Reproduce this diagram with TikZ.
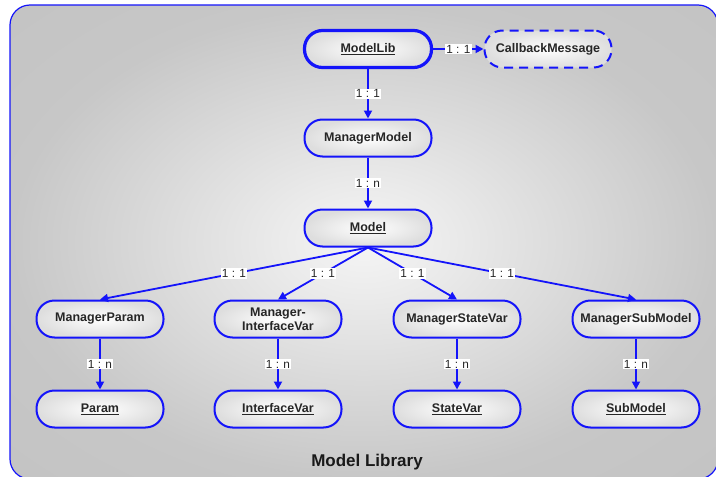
\documentclass[tikz,border=0pt]{standalone}
\usepackage{fontspec}
\setmainfont{Liberation Sans}
\usetikzlibrary{arrows.meta}
\definecolor{libblue}{RGB}{20,20,250}
% grey frame, light in the middle
\pgfdeclareradialshading{libback}{\pgfpoint{0bp}{0bp}}{color(0bp)=(white!96!black); color(6bp)=(white!92!black); color(25bp)=(white!78!black); color(50bp)=(white!75!black)}
\begin{document}
\begin{tikzpicture}[x=1pt,y=-1pt,>={Triangle[length=8pt,width=8pt]}, line join=round,
  box/.style={rectangle,rounded corners=18pt,draw=libblue,line width=2pt,minimum width=127pt,minimum height=37pt,inner color=white,outer color=black!13,font=\bfseries\fontsize{12.5}{14}\selectfont,text=black!85,align=center},
  link/.style={->,draw=libblue,line width=1.8pt},
  card/.style={fill=white,inner sep=1.2pt,font=\fontsize{11.8}{12}\selectfont,text=black!85}]
\useasboundingbox (0,0) rectangle (716,477);
\begin{scope}
\clip (0,0) rectangle (716,477);
\path[draw=libblue,line width=1.2pt,rounded corners=20pt,shading=libback] (10,5) rectangle (718,479);
\end{scope}
\node[font=\bfseries\fontsize{17}{20}\selectfont,text=black!90] (title) at (367,462) {Model Library};
% top of the tree
\node[box,line width=3.2pt] (lib) at (368,49) {\underline{ModelLib}};
\node[box,dash pattern=on 9pt off 6pt] (cb) at (548,49) {CallbackMessage};
\node[box] (mm) at (368,138) {ManagerModel};
\node[box] (model) at (368,228) {\underline{Model}};
\draw[link] (lib) -- (cb) node[card,midway]{1 : 1};
\draw[link] (lib) -- (mm) node[card,midway]{1 : 1};
\draw[link] (mm) -- (model) node[card,midway]{1 : n};
% managers and their items
\foreach \i/\x/\m/\l in {1/100/ManagerParam/Param, 2/278/{Manager-\\InterfaceVar}/InterfaceVar, 3/457/ManagerStateVar/StateVar, 4/636/ManagerSubModel/SubModel}{
  \node[box] (mgr\i) at (\x,319) {\m};
  \node[box] (leaf\i) at (\x,409) {\underline{\l}};
  \draw[link] (model.south) -- (mgr\i.north) node[card,midway]{1 : 1};
  \draw[link] (mgr\i) -- (leaf\i) node[card,midway]{1 : n};
}
\end{tikzpicture}
\end{document}
